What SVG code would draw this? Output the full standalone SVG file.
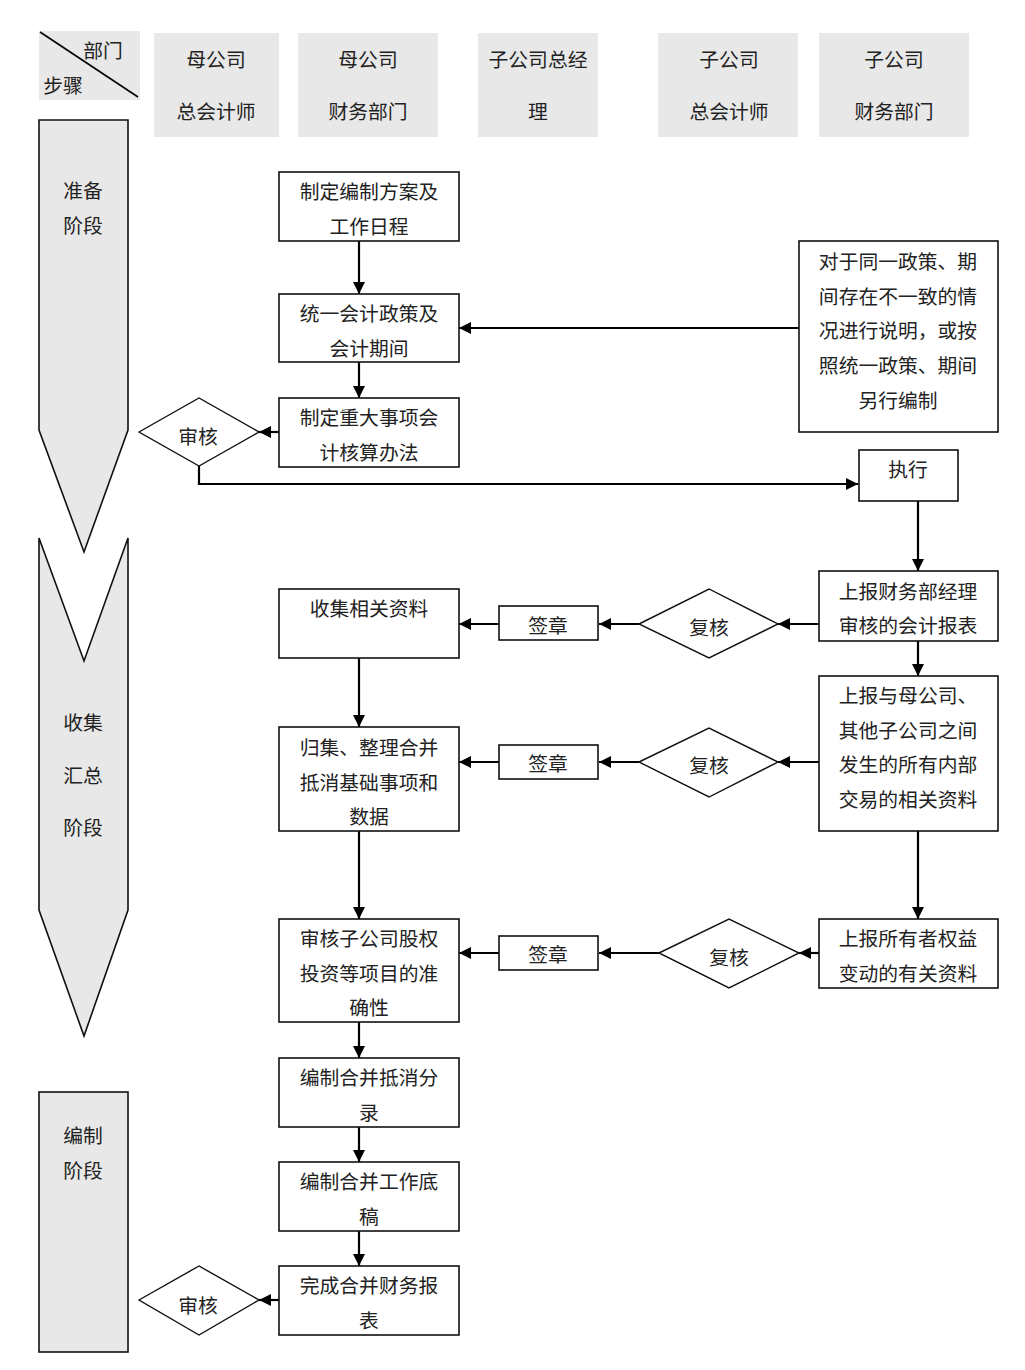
<svg xmlns="http://www.w3.org/2000/svg" width="1025" height="1370" viewBox="0 0 1025 1370">
<style>
text{font-family:"Liberation Serif","Noto Sans CJK SC",serif;font-size:19.8px;fill:#222;text-anchor:middle;dominant-baseline:central}
.hd{fill:#e8e8e8;stroke:none}
.stage{fill:#e8e8e8;stroke:#111;stroke-width:1.6}
.box{fill:#fff;stroke:#111;stroke-width:1.6}
.dia{fill:#fff;stroke:#111;stroke-width:1.4}
.con{fill:none;stroke:#000;stroke-width:2.2;marker-end:url(#ah)}
</style>
<defs>
<marker id="ah" viewBox="0 0 12 12" refX="12" refY="6" markerWidth="12" markerHeight="12" markerUnits="userSpaceOnUse" orient="auto">
<path d="M0,0 L12,6 L0,12 z" fill="#000"/>
</marker>
</defs>
<rect width="1025" height="1370" fill="#fff"/>

<g id="header">
<g id="h0"><rect class="hd" x="39" y="31" width="101" height="69"/><line x1="40" y1="32" x2="138" y2="97" stroke="#000" stroke-width="1.6"/><text x="103" y="51">部门</text><text x="63" y="86">步骤</text></g>
<g id="h1"><rect class="hd" x="154" y="33" width="125" height="104"/><text x="216" y="60">母公司</text><text x="216" y="112">总会计师</text></g>
<g id="h2"><rect class="hd" x="298" y="33" width="140" height="104"/><text x="368" y="60">母公司</text><text x="368" y="112">财务部门</text></g>
<g id="h3"><rect class="hd" x="478" y="33" width="120" height="104"/><text x="538" y="60">子公司总经</text><text x="538" y="112">理</text></g>
<g id="h4"><rect class="hd" x="658" y="33" width="140" height="104"/><text x="729" y="60">子公司</text><text x="729" y="112">总会计师</text></g>
<g id="h5"><rect class="hd" x="819" y="33" width="150" height="104"/><text x="894" y="60">子公司</text><text x="894" y="112">财务部门</text></g>
</g>

<g id="stage1"><path class="stage" d="M39,120 H128 V430 L84,552 L39,430 Z"/><text x="83" y="191">准备</text><text x="83" y="226">阶段</text></g>
<g id="stage2"><path class="stage" d="M39,538 L84,661 L128,538 V910 L84,1036 L39,910 Z"/><text x="83" y="723">收集</text><text x="83" y="776">汇总</text><text x="83" y="828">阶段</text></g>
<g id="stage3"><rect class="stage" x="39" y="1092" width="89" height="260"/><text x="83" y="1136">编制</text><text x="83" y="1171">阶段</text></g>

<g id="connectors">
<path class="con" d="M359,241 V294"/>
<path class="con" d="M799,328 H459"/>
<path class="con" d="M359,362 V398"/>
<path class="con" d="M279,432 H259"/>
<path class="con" d="M199,466 V484 H858"/>
<path class="con" d="M918,501 V571"/>
<path class="con" d="M819,624 H778"/>
<path class="con" d="M639,624 H599"/>
<path class="con" d="M499,624 H459"/>
<path class="con" d="M918,641 V676"/>
<path class="con" d="M359,658 V727"/>
<path class="con" d="M819,762 H778"/>
<path class="con" d="M639,762 H599"/>
<path class="con" d="M499,762 H459"/>
<path class="con" d="M918,831 V919"/>
<path class="con" d="M359,831 V919"/>
<path class="con" d="M819,953 H799"/>
<path class="con" d="M659,953 H599"/>
<path class="con" d="M499,953 H459"/>
<path class="con" d="M359,1022 V1058"/>
<path class="con" d="M359,1127 V1162"/>
<path class="con" d="M359,1231 V1266"/>
<path class="con" d="M279,1300 H259"/>
</g>

<g id="n1"><rect class="box" x="279" y="172" width="180" height="69"/><text x="369" y="192">制定编制方案及</text><text x="369" y="227">工作日程</text></g>
<g id="n2"><rect class="box" x="279" y="294" width="180" height="68"/><text x="369" y="314">统一会计政策及</text><text x="369" y="349">会计期间</text></g>
<g id="n3"><rect class="box" x="279" y="398" width="180" height="69"/><text x="369" y="418">制定重大事项会</text><text x="369" y="453">计核算办法</text></g>
<g id="d1"><path class="dia" d="M139,432 L199,398 L259,432 L199,466 Z"/><text x="198" y="437">审核</text></g>
<g id="n4"><rect class="box" x="799" y="241" width="199" height="191"/><text x="898" y="262">对于同一政策、期</text><text x="898" y="297">间存在不一致的情</text><text x="898" y="331">况进行说明，或按</text><text x="898" y="366">照统一政策、期间</text><text x="898" y="401">另行编制</text></g>
<g id="n5"><rect class="box" x="859" y="450" width="99" height="51"/><text x="908" y="470">执行</text></g>
<g id="n6"><rect class="box" x="819" y="571" width="179" height="70"/><text x="908" y="592">上报财务部经理</text><text x="908" y="626">审核的会计报表</text></g>
<g id="d2"><path class="dia" d="M639,624 L709,589 L778,624 L709,658 Z"/><text x="709" y="628">复核</text></g>
<g id="s1"><rect class="box" x="499" y="606" width="99" height="34"/><text x="548" y="626">签章</text></g>
<g id="n7"><rect class="box" x="279" y="589" width="180" height="69"/><text x="369" y="609">收集相关资料</text></g>
<g id="n8"><rect class="box" x="819" y="676" width="179" height="155"/><text x="908" y="696">上报与母公司、</text><text x="908" y="731">其他子公司之间</text><text x="908" y="765">发生的所有内部</text><text x="908" y="800">交易的相关资料</text></g>
<g id="d3"><path class="dia" d="M639,762 L709,728 L778,762 L709,797 Z"/><text x="709" y="766">复核</text></g>
<g id="s2"><rect class="box" x="499" y="745" width="99" height="34"/><text x="548" y="764">签章</text></g>
<g id="n9"><rect class="box" x="279" y="727" width="180" height="104"/><text x="369" y="748">归集、整理合并</text><text x="369" y="783">抵消基础事项和</text><text x="369" y="817">数据</text></g>
<g id="n10"><rect class="box" x="819" y="919" width="179" height="69"/><text x="908" y="939">上报所有者权益</text><text x="908" y="974">变动的有关资料</text></g>
<g id="d4"><path class="dia" d="M659,953 L729,919 L799,953 L729,988 Z"/><text x="729" y="958">复核</text></g>
<g id="s3"><rect class="box" x="499" y="936" width="99" height="34"/><text x="548" y="955">签章</text></g>
<g id="n11"><rect class="box" x="279" y="919" width="180" height="103"/><text x="369" y="939">审核子公司股权</text><text x="369" y="974">投资等项目的准</text><text x="369" y="1008">确性</text></g>
<g id="n12"><rect class="box" x="279" y="1058" width="180" height="69"/><text x="369" y="1078">编制合并抵消分</text><text x="369" y="1113">录</text></g>
<g id="n13"><rect class="box" x="279" y="1162" width="180" height="69"/><text x="369" y="1182">编制合并工作底</text><text x="369" y="1217">稿</text></g>
<g id="n14"><rect class="box" x="279" y="1266" width="180" height="69"/><text x="369" y="1286">完成合并财务报</text><text x="369" y="1321">表</text></g>
<g id="d5"><path class="dia" d="M139,1300 L199,1266 L259,1300 L199,1335 Z"/><text x="198" y="1306">审核</text></g>
</svg>
